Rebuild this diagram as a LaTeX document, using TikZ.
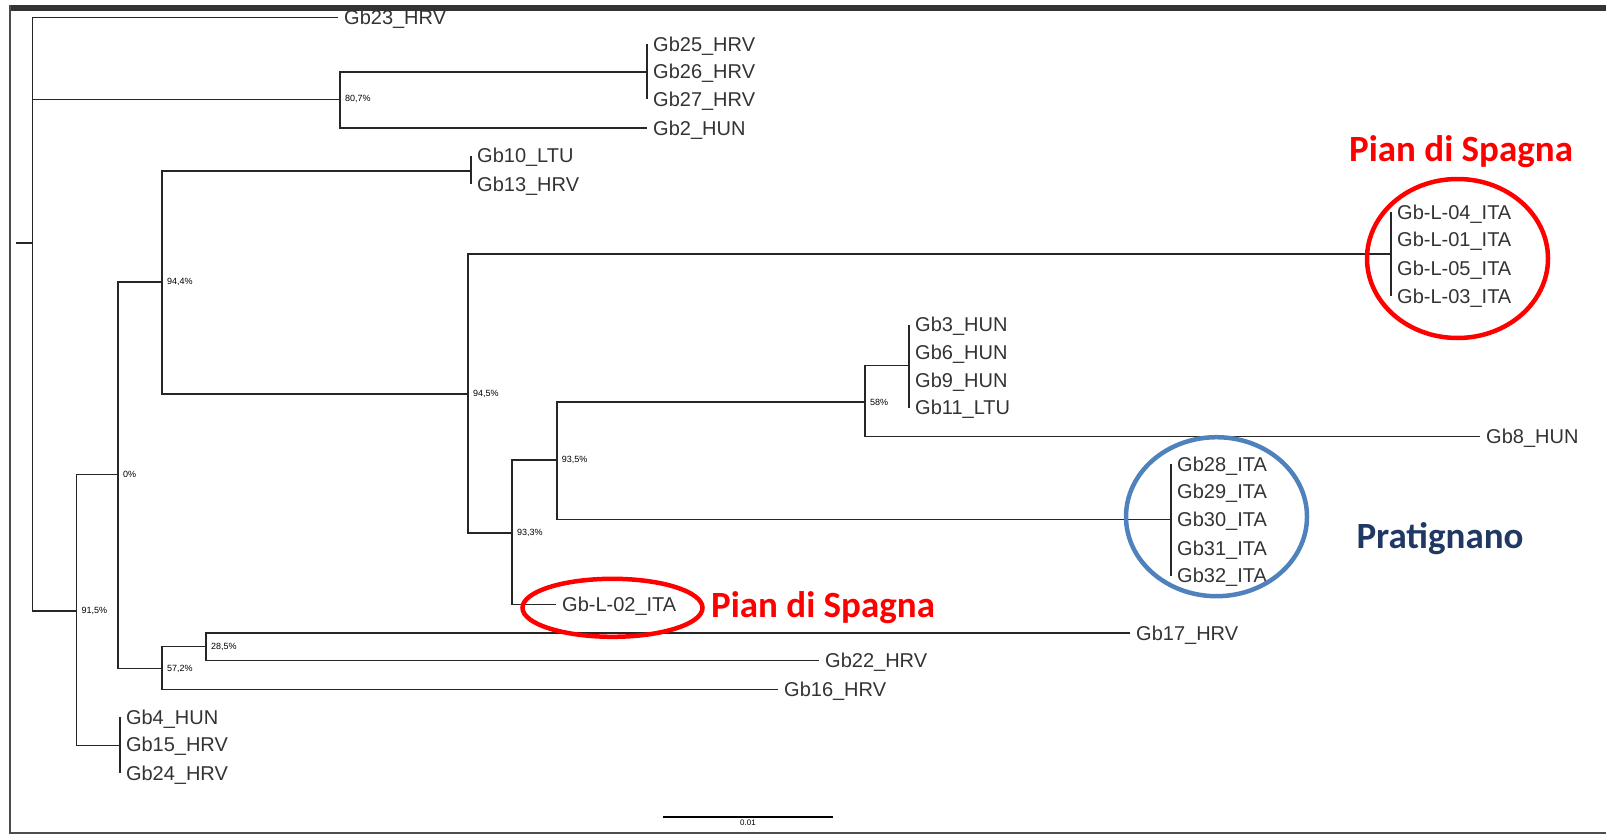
\documentclass[tikz,border=0pt]{standalone}
\usepackage{fontspec}
\setmainfont{Liberation Sans}
\newfontfamily\calib{Carlito}
\usepackage{xcolor}
\usetikzlibrary{positioning, shapes.geometric}
\definecolor{pratblue}{HTML}{1F3864}
\definecolor{ringblue}{HTML}{4F81BD}
\definecolor{framegray}{HTML}{333333}

\begin{document}
\begin{tikzpicture}[x=1pt, y=-1pt,
  branch/.style={line width=1.6pt, black!85},
  leaf/.style={anchor=base west, inner sep=0pt, xshift=6pt, yshift=-7pt, font=\fontsize{20}{22}\selectfont, text=black!80},
  boot/.style={anchor=west, inner sep=0pt, xshift=5pt, font=\fontsize{9}{10}\selectfont},
  site/.style={anchor=base, inner sep=0pt, font=\calib\bfseries\fontsize{37}{40}\selectfont},
  ring/.style={draw, ellipse, line width=4.5pt, inner sep=0pt}
]
\useasboundingbox (0,0) rectangle (1606,835);
\fill[framegray] (10,5) rectangle (1606,10.5);
\draw[black!70, line width=1.8pt] (10,5) -- (10,833) -- (1606,833);

% inner nodes of the tree
\coordinate (stub) at (16.4,242.7);
\coordinate (root) at (32.5,242.7);
\coordinate (n807) at (340,99.3);
\coordinate (c25) at (647,71.7);
\coordinate (n915) at (76.3,611);
\coordinate (n0) at (118,474.5);
\coordinate (n944) at (161.8,282);
\coordinate (c10) at (471,171);
\coordinate (n945) at (468,394);
\coordinate (cL) at (1391,254);
\coordinate (n933) at (512,533);
\coordinate (n935) at (556.7,460);
\coordinate (n58) at (865,402);
\coordinate (c3) at (909,365.6);
\coordinate (c28) at (1171,519.3);
\coordinate (n572) at (161.8,668.5);
\coordinate (n285) at (206,646.5);
\coordinate (c4) at (119.8,745.6);

% leaf tips
\coordinate (t23) at (338,17.4);
\coordinate (t25) at (647,44);
\coordinate (t26) at (647,71.7);
\coordinate (t27) at (647,99.3);
\coordinate (t2) at (647,128);
\coordinate (t10) at (471,155.7);
\coordinate (t13) at (471,184.4);
\coordinate (tL04) at (1391,212);
\coordinate (tL01) at (1391,239.7);
\coordinate (tL05) at (1391,268.3);
\coordinate (tL03) at (1391,296);
\coordinate (t3) at (909,324.7);
\coordinate (t6) at (909,352.3);
\coordinate (t9) at (909,380);
\coordinate (t11) at (909,407.6);
\coordinate (t8) at (1480,436.3);
\coordinate (t28) at (1171,464);
\coordinate (t29) at (1171,491.6);
\coordinate (t30) at (1171,519.3);
\coordinate (t31) at (1171,548);
\coordinate (t32) at (1171,575.6);
\coordinate (tL02) at (556,604.3);
\coordinate (t17) at (1130,633);
\coordinate (t22) at (819,660.6);
\coordinate (t16) at (778,689.3);
\coordinate (t4) at (119.8,717);
\coordinate (t15) at (119.8,744.6);
\coordinate (t24) at (119.8,773.3);

\draw[branch] (stub) -- (root);
\draw[branch] (root) |- (t23);
\draw[branch] (root) |- (n807);
\draw[branch] (root) |- (n915);
\draw[branch] (n807) |- (c25);
\draw[branch] (n807) |- (t2);
\draw[branch] (c25) |- (t25);
\draw[branch] (c25) |- (t27);
\draw[branch] (n915) |- (n0);
\draw[branch] (n915) |- (c4);
\draw[branch] (c4) |- (t4);
\draw[branch] (c4) |- (t24);
\draw[branch] (n0) |- (n944);
\draw[branch] (n0) |- (n572);
\draw[branch] (n944) |- (c10);
\draw[branch] (n944) |- (n945);
\draw[branch] (c10) |- (t10);
\draw[branch] (c10) |- (t13);
\draw[branch] (n945) |- (cL);
\draw[branch] (n945) |- (n933);
\draw[branch] (cL) |- (tL04);
\draw[branch] (cL) |- (tL03);
\draw[branch] (n933) |- (n935);
\draw[branch] (n933) |- (tL02);
\draw[branch] (n935) |- (n58);
\draw[branch] (n935) |- (c28);
\draw[branch] (n58) |- (c3);
\draw[branch] (n58) |- (t8);
\draw[branch] (c3) |- (t3);
\draw[branch] (c3) |- (t11);
\draw[branch] (c28) |- (t28);
\draw[branch] (c28) |- (t32);
\draw[branch] (n572) |- (n285);
\draw[branch] (n572) |- (t16);
\draw[branch] (n285) |- (t17);
\draw[branch] (n285) |- (t22);

\node[leaf] (l23) at (t23) {Gb23\_HRV};
\node[leaf] (l25) at (t25) {Gb25\_HRV};
\node[leaf] (l26) at (t26) {Gb26\_HRV};
\node[leaf] (l27) at (t27) {Gb27\_HRV};
\node[leaf] (l2) at (t2) {Gb2\_HUN};
\node[leaf] (l10) at (t10) {Gb10\_LTU};
\node[leaf] (l13) at (t13) {Gb13\_HRV};
\node[leaf] (lL04) at (tL04) {Gb-L-04\_ITA};
\node[leaf] (lL01) at (tL01) {Gb-L-01\_ITA};
\node[leaf] (lL05) at (tL05) {Gb-L-05\_ITA};
\node[leaf] (lL03) at (tL03) {Gb-L-03\_ITA};
\node[leaf] (l3) at (t3) {Gb3\_HUN};
\node[leaf] (l6) at (t6) {Gb6\_HUN};
\node[leaf] (l9) at (t9) {Gb9\_HUN};
\node[leaf] (l11) at (t11) {Gb11\_LTU};
\node[leaf] (l8) at (t8) {Gb8\_HUN};
\node[leaf] (l28) at (t28) {Gb28\_ITA};
\node[leaf] (l29) at (t29) {Gb29\_ITA};
\node[leaf] (l30) at (t30) {Gb30\_ITA};
\node[leaf] (l31) at (t31) {Gb31\_ITA};
\node[leaf] (l32) at (t32) {Gb32\_ITA};
\node[leaf] (lL02) at (tL02) {Gb-L-02\_ITA};
\node[leaf] (l17) at (t17) {Gb17\_HRV};
\node[leaf] (l22) at (t22) {Gb22\_HRV};
\node[leaf] (l16) at (t16) {Gb16\_HRV};
\node[leaf] (l4) at (t4) {Gb4\_HUN};
\node[leaf] (l15) at (t15) {Gb15\_HRV};
\node[leaf] (l24) at (t24) {Gb24\_HRV};

\node[boot] (b807) at (n807) {80,7\%};
\node[boot] (b944) at (n944) {94,4\%};
\node[boot] (b945) at (n945) {94,5\%};
\node[boot] (b0) at (n0) {0\%};
\node[boot] (b915) at (n915) {91,5\%};
\node[boot] (b285) at (n285) {28,5\%};
\node[boot] (b572) at (n572) {57,2\%};
\node[boot] (b935) at (n935) {93,5\%};
\node[boot] (b933) at (n933) {93,3\%};
\node[boot] (b58) at (n58) {58\%};

\coordinate (sbL) at (663,817);
\coordinate (sbR) at (833,817);
\draw[line width=1.5pt] (sbL) -- (sbR) node[midway, below=2pt, inner sep=0pt, font=\fontsize{8}{9}\selectfont] {0.01};

\node[ring, draw=red, minimum width=181pt, minimum height=159pt] (ringL) at (1457.5,258.5) {};
\node[ring, draw=ringblue, minimum width=181pt, minimum height=159pt] (ringP) at (1216.5,516.7) {};
\node[ring, draw=red, minimum width=180pt, minimum height=58pt] (ringL2) at (612.5,607.8) {};

\node[site, text=red] (pianA) at (1461,161.7) {Pian di Spagna};
\node[site, text=red] (pianB) at (823,617) {Pian di Spagna};
\node[site, text=pratblue] (prat) at (1440,548.3) {Pratignano};
\end{tikzpicture}
\end{document}
